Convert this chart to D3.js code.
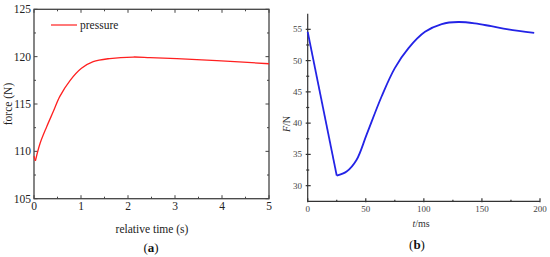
<!DOCTYPE html>
<html>
<head>
<meta charset="utf-8">
<script src="https://cdn.jsdelivr.net/npm/d3@7"></script>
<style>
  body { margin: 0; background: #fff; }
  text { font-family: "Liberation Serif", "DejaVu Serif", serif; }
</style>
</head>
<body>
<div id="chart"></div>
<script>
// panel (a): pressure force vs relative time
var timeA = [0, 0.03, 0.13, 0.27, 0.41, 0.55, 0.77, 1.01, 1.26, 1.61, 2.11, 2.47, 3.04, 3.89, 5.0];
var forceA = [109.5, 109.0, 110.85, 112.6, 114.2, 115.8, 117.5, 118.77, 119.47, 119.8, 119.96, 119.9, 119.8, 119.58, 119.25];
var ticksA_x = [0, 1, 2, 3, 4, 5];
var ticksA_y = [105, 110, 115, 120, 125];

// panel (b): F vs t in ms
var timeB = [0, 25, 33.5, 42, 50.8, 63.7, 75, 86.8, 101, 115.4, 129.7, 144, 158, 172.7, 195];
var forceB = [54.6, 31.6, 32.25, 34.1, 38.2, 44.3, 48.8, 52.0, 54.6, 55.85, 56.17, 55.96, 55.5, 55.0, 54.45];
var ticksB_x = [0, 50, 100, 150, 200];
var ticksB_y = [30, 35, 40, 45, 50, 55];

var width = 550, height = 257;
var serif = "'Liberation Serif', 'DejaVu Serif', serif";
var svg = d3.select("#chart").append("svg")
    .attr("width", width)
    .attr("height", height)
    .attr("font-family", serif);

// ---------- panel (a) ----------
var xA = d3.scaleLinear().domain([0, 5]).range([34, 269]);
var yA = d3.scaleLinear().domain([105, 125]).range([198.7, 9.3]);
var axisCol = "#444";

var gA = svg.append("g");

// frame
gA.append("rect")
    .attr("x", xA(0)).attr("y", yA(125))
    .attr("width", xA(5) - xA(0)).attr("height", yA(105) - yA(125))
    .attr("fill", "none").attr("stroke", axisCol).attr("stroke-width", 1.3);

// inward ticks, mirrored on all sides
var minorA_x = d3.range(0.5, 5, 1);
var minorA_y = d3.range(107.5, 125, 5);
function tickA(vals, len) {
    vals.forEach(function(v) {
        gA.append("line").attr("x1", xA(v)).attr("x2", xA(v))
            .attr("y1", yA(105)).attr("y2", yA(105) - len);
        gA.append("line").attr("x1", xA(v)).attr("x2", xA(v))
            .attr("y1", yA(125)).attr("y2", yA(125) + len);
    });
}
tickA(ticksA_x, 3.5);
tickA(minorA_x, 2);
function tickAy(vals, len) {
    vals.forEach(function(v) {
        gA.append("line").attr("y1", yA(v)).attr("y2", yA(v))
            .attr("x1", xA(0)).attr("x2", xA(0) + len);
        gA.append("line").attr("y1", yA(v)).attr("y2", yA(v))
            .attr("x1", xA(5)).attr("x2", xA(5) - len);
    });
}
tickAy(ticksA_y, 3.5);
tickAy(minorA_y, 2);
gA.selectAll("line").attr("stroke", axisCol).attr("stroke-width", 1);

gA.selectAll(".xlab").data(ticksA_x).enter().append("text")
    .attr("x", function(d) { return xA(d); })
    .attr("y", 210)
    .attr("text-anchor", "middle")
    .attr("font-size", 11.5)
    .attr("fill", "#222")
    .text(function(d) { return d; });

gA.selectAll(".ylab").data(ticksA_y).enter().append("text")
    .attr("x", 31)
    .attr("y", function(d) { return yA(d) + 4; })
    .attr("text-anchor", "end")
    .attr("font-size", 11.5)
    .attr("fill", "#222")
    .text(function(d) { return d; });

gA.append("text")
    .attr("x", 152).attr("y", 233)
    .attr("text-anchor", "middle").attr("font-size", 11.5).attr("fill", "#222")
    .text("relative time (s)");

gA.append("text")
    .attr("transform", "translate(12,104) rotate(-90)")
    .attr("text-anchor", "middle").attr("font-size", 11.5).attr("fill", "#222")
    .text("force (N)");

var capA = gA.append("text")
    .attr("x", 151).attr("y", 252)
    .attr("text-anchor", "middle").attr("font-size", 13).attr("fill", "#111");
capA.append("tspan").text("(");
capA.append("tspan").attr("font-weight", "bold").text("a");
capA.append("tspan").text(")");

// legend
gA.append("line")
    .attr("x1", 51).attr("x2", 77).attr("y1", 25).attr("y2", 25)
    .attr("stroke", "#ff2020").attr("stroke-width", 1.2);
gA.append("text")
    .attr("x", 80).attr("y", 29)
    .attr("font-size", 11.5).attr("fill", "#222")
    .text("pressure");

var dataA = timeA.map(function(t, i) { return [t, forceA[i]]; });
var lineA = d3.line()
    .x(function(d) { return xA(d[0]); })
    .y(function(d) { return yA(d[1]); });
gA.append("path")
    .datum(dataA.slice(0, 2))
    .attr("d", lineA.curve(d3.curveLinear))
    .attr("fill", "none").attr("stroke", "#ff2020").attr("stroke-width", 1.3);
gA.append("path")
    .datum(dataA.slice(1))
    .attr("d", lineA.curve(d3.curveCatmullRom.alpha(0.5)))
    .attr("fill", "none").attr("stroke", "#ff2020").attr("stroke-width", 1.3);

// ---------- panel (b) ----------
var xB = d3.scaleLinear().domain([0, 200]).range([307.7, 540]);
var yB = d3.scaleLinear().domain([27.5, 57.5]).range([201.3, 13.7]);
var gB = svg.append("g");

gB.append("line")
    .attr("x1", xB(0)).attr("x2", xB(0)).attr("y1", yB(27.5)).attr("y2", yB(57.5));
gB.append("line")
    .attr("x1", xB(0)).attr("x2", xB(200)).attr("y1", yB(27.5)).attr("y2", yB(27.5));

ticksB_y.forEach(function(v) {
    gB.append("line").attr("x1", xB(0) - 2).attr("x2", xB(0) + 3)
        .attr("y1", yB(v)).attr("y2", yB(v));
});
d3.range(32.5, 57.5, 5).forEach(function(v) {
    gB.append("line").attr("x1", xB(0) - 1.5).attr("x2", xB(0) + 1.5)
        .attr("y1", yB(v)).attr("y2", yB(v));
});
ticksB_x.forEach(function(v) {
    gB.append("line").attr("x1", xB(v)).attr("x2", xB(v))
        .attr("y1", yB(27.5) + 1).attr("y2", yB(27.5) - 3);
});
d3.range(25, 200, 50).forEach(function(v) {
    gB.append("line").attr("x1", xB(v)).attr("x2", xB(v))
        .attr("y1", yB(27.5)).attr("y2", yB(27.5) - 1.5);
});
gB.selectAll("line").attr("stroke", "#333").attr("stroke-width", 1.2);

gB.selectAll(".xlab").data(ticksB_x).enter().append("text")
    .attr("x", function(d) { return xB(d); })
    .attr("y", 212)
    .attr("text-anchor", "middle").attr("font-size", 9).attr("fill", "#444")
    .text(function(d) { return d; });

gB.selectAll(".ylab").data(ticksB_y).enter().append("text")
    .attr("x", 302)
    .attr("y", function(d) { return yB(d) + 3; })
    .attr("text-anchor", "end").attr("font-size", 9).attr("fill", "#444")
    .text(function(d) { return d; });

var tB = gB.append("text")
    .attr("x", 421).attr("y", 227)
    .attr("text-anchor", "middle").attr("font-size", 10).attr("fill", "#333");
tB.append("tspan").attr("font-style", "italic").text("t");
tB.append("tspan").text("/ms");

var fB = gB.append("text")
    .attr("transform", "translate(290,124) rotate(-90)")
    .attr("text-anchor", "middle").attr("font-size", 10).attr("fill", "#333");
fB.append("tspan").attr("font-style", "italic").text("F");
fB.append("tspan").text("/N");

var capB = gB.append("text")
    .attr("x", 417).attr("y", 249)
    .attr("text-anchor", "middle").attr("font-size", 13).attr("fill", "#111");
capB.append("tspan").text("(");
capB.append("tspan").attr("font-weight", "bold").text("b");
capB.append("tspan").text(")");

var dataB = timeB.map(function(t, i) { return [t, forceB[i]]; });
var lineB = d3.line()
    .x(function(d) { return xB(d[0]); })
    .y(function(d) { return yB(d[1]); });
gB.append("path")
    .datum(dataB.slice(0, 2))
    .attr("d", lineB.curve(d3.curveLinear))
    .attr("fill", "none").attr("stroke", "#2323e6").attr("stroke-width", 1.8);
gB.append("path")
    .datum(dataB.slice(1))
    .attr("d", lineB.curve(d3.curveCatmullRom.alpha(0.5)))
    .attr("fill", "none").attr("stroke", "#2323e6").attr("stroke-width", 1.8);
</script>
</body>
</html>
